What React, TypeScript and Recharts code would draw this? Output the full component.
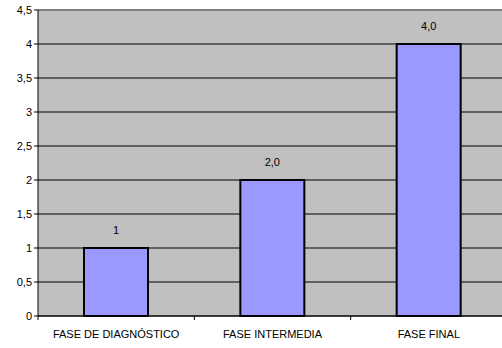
import { BarChart, Bar, XAxis, YAxis, CartesianGrid, ReferenceLine, LabelList } from "recharts"

// ─── Data ─────────────────────────────────────────────────────────────────────

const PHASES = ["FASE DE DIAGNÓSTICO", "FASE INTERMEDIA", "FASE FINAL"]
const SCORES = [1, 2, 4]
const SCORE_LABELS = ["1", "2,0", "4,0"]
const Y_TICKS = [0, 0.5, 1, 1.5, 2, 2.5, 3, 3.5, 4, 4.5]

const chartData = PHASES.map((name, i) => ({ name, value: SCORES[i], label: SCORE_LABELS[i] }))

const FONT = "'Liberation Sans', Arial, sans-serif"

// category label plus the small tick mark on the left edge of its band
function CategoryTick(props: any) {
  const { x, y, payload, width, visibleTicksCount } = props
  const band = width / visibleTicksCount
  return (
    <g>
      <line x1={x - band / 2} y1={y} x2={x - band / 2} y2={y + 4} stroke="#000" />
      {payload.index === visibleTicksCount - 1 && (
        <line x1={x + band / 2} y1={y} x2={x + band / 2} y2={y + 4} stroke="#000" />
      )}
      <text x={x} y={y} dy={22} textAnchor="middle" fontSize={11} fill="#000" fontFamily={FONT}>
        {payload.value}
      </text>
    </g>
  )
}

export default function App() {
  return (
    <div style={{ position: "fixed", left: 0, top: 0, width: 502, height: 348, overflow: "hidden", background: "#fff" }}>
      <BarChart
        width={507}
        height={348}
        data={chartData}
        margin={{ top: 10, right: 0, left: 0, bottom: 0 }}
      >
        <CartesianGrid vertical={false} stroke="#000" fill="#C0C0C0" fillOpacity={1} />
        <ReferenceLine y={4.5} stroke="#808080" strokeWidth={2} />
        <XAxis
          dataKey="name"
          height={32}
          tickLine={false}
          tickSize={0}
          tickMargin={0}
          axisLine={{ stroke: "#000" }}
          tick={<CategoryTick />}
          interval={0}
        />
        <YAxis
          width={38}
          domain={[0, 4.5]}
          ticks={Y_TICKS}
          interval={0}
          tickSize={4}
          axisLine={{ stroke: "#000" }}
          tickLine={{ stroke: "#000" }}
          tick={{ fontSize: 11, fill: "#000", fontFamily: FONT }}
          tickFormatter={(v: number) => String(v).replace(".", ",")}
        />
        <Bar dataKey="value" fill="#9999FF" stroke="#000" strokeWidth={2} barSize={64} isAnimationActive={false}>
          <LabelList dataKey="label" position="top" offset={14} style={{ fontSize: 11, fill: "#000", fontFamily: FONT }} />
        </Bar>
      </BarChart>
    </div>
  )
}
